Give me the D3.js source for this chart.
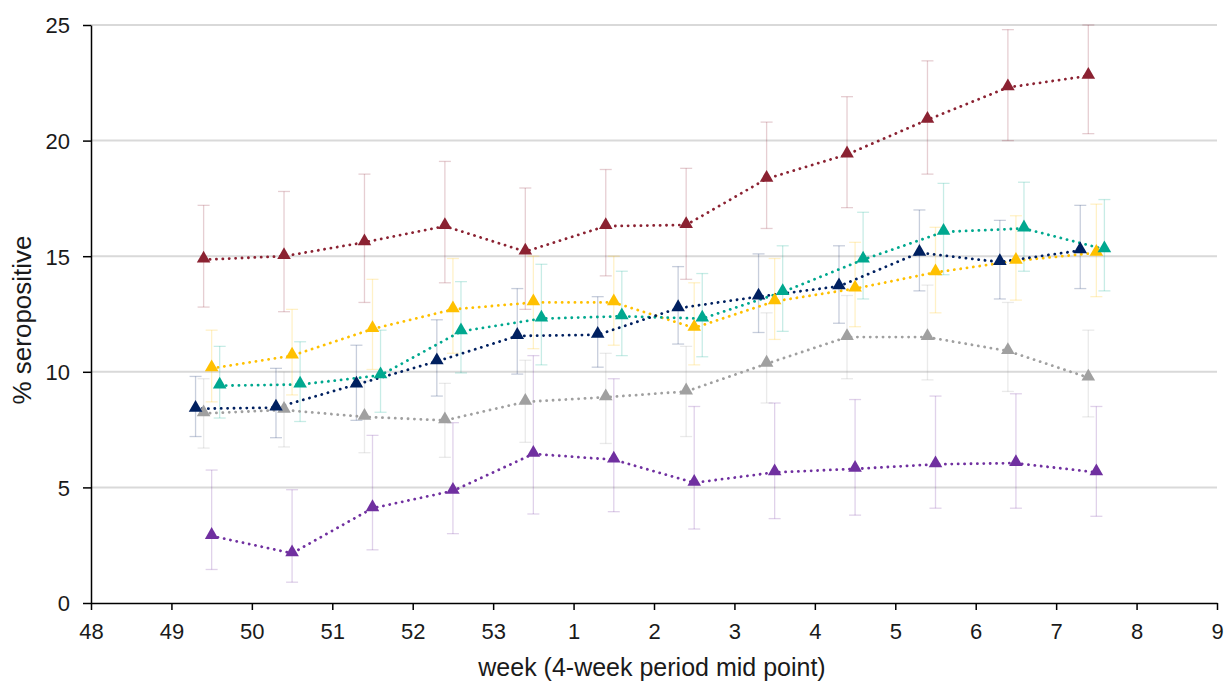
<!DOCTYPE html>
<html>
<head>
<meta charset="utf-8">
<script src="https://cdn.jsdelivr.net/npm/d3@7"></script>
<style>
  body { margin: 0; background: #fff; }
  svg { display: block; font-family: "Liberation Sans", Arial, sans-serif; }
</style>
</head>
<body>
<script>
// x axis categories (week numbers) and the weeks that have data
var weekLabels = ["48", "49", "50", "51", "52", "53", "1", "2", "3", "4", "5", "6", "7", "8", "9"];
var dataWeeks = ["49", "50", "51", "52", "53", "1", "2", "3", "4", "5", "6", "7"];
var yTicks = [0, 5, 10, 15, 20, 25];

// series values (% seropositive) with lower / upper confidence limits
var maroonVals = [14.85, 15.0, 15.6, 16.3, 15.2, 16.3, 16.35, 18.35, 19.4, 20.9, 22.3, 22.8];
var maroonLo   = [12.8, 12.6, 13.0, 13.85, 12.7, 14.15, 14.0, 16.2, 17.1, 18.55, 20.0, 20.3];
var maroonHi   = [17.2, 17.8, 18.55, 19.1, 17.95, 18.75, 18.8, 20.8, 21.9, 23.45, 24.8, 25.0];

var navyVals = [8.4, 8.45, 9.45, 10.45, 11.55, 11.6, 12.75, 13.25, 13.7, 15.15, 14.75, 15.25];
var navyLo   = [7.2, 7.15, 7.9, 8.95, 9.9, 10.2, 11.2, 11.7, 12.1, 13.5, 13.15, 13.6];
var navyHi   = [9.8, 10.15, 11.15, 12.25, 13.6, 13.25, 14.55, 15.1, 15.45, 17.0, 16.55, 17.2];

var greyVals = [8.2, 8.35, 8.05, 7.9, 8.7, 8.9, 9.15, 10.35, 11.5, 11.5, 10.9, 9.75];
var greyLo   = [6.7, 6.75, 6.5, 6.3, 6.95, 6.9, 7.2, 8.65, 9.7, 9.65, 9.15, 8.05];
var greyHi   = [9.7, 10.0, 9.6, 9.5, 10.5, 10.8, 11.1, 12.55, 13.3, 13.75, 13.0, 11.8];

var yellowVals = [10.15, 10.7, 11.85, 12.7, 13.0, 13.0, 11.9, 13.05, 13.6, 14.3, 14.8, 15.15];
var yellowLo   = [8.7, 9.0, 10.1, 10.8, 11.0, 11.15, 10.3, 11.4, 11.95, 12.55, 13.1, 13.25];
var yellowHi   = [11.8, 12.7, 14.0, 14.9, 15.0, 15.0, 13.85, 14.9, 15.6, 16.25, 16.75, 17.25];

var tealVals = [9.4, 9.45, 9.85, 11.75, 12.3, 12.4, 12.3, 13.45, 14.85, 16.05, 16.2, 15.3];
var tealLo   = [8.0, 7.85, 8.25, 9.95, 10.3, 10.7, 10.65, 11.75, 13.15, 14.2, 14.35, 13.5];
var tealHi   = [11.1, 11.3, 11.8, 13.9, 14.65, 14.35, 14.25, 15.45, 16.9, 18.15, 18.2, 17.45];

var purpleVals = [2.9, 2.15, 4.1, 4.85, 6.45, 6.2, 5.2, 5.65, 5.8, 6.0, 6.05, 5.65];
var purpleLo   = [1.45, 0.9, 2.3, 3.0, 3.85, 3.95, 3.2, 3.65, 3.8, 4.1, 4.1, 3.75];
var purpleHi   = [5.75, 4.9, 7.25, 7.8, 10.7, 9.7, 8.5, 8.65, 8.8, 8.95, 9.05, 8.5];

var series = [
    { color: "#7030a0", offset: 0.5, vals: purpleVals, lo: purpleLo, hi: purpleHi },
    { color: "#a0a0a0", offset: 0.4, vals: greyVals, lo: greyLo, hi: greyHi },
    { color: "#8b2232", offset: 0.4, vals: maroonVals, lo: maroonLo, hi: maroonHi },
    { color: "#ffc000", offset: 0.5, vals: yellowVals, lo: yellowLo, hi: yellowHi },
    { color: "#00a88f", offset: 0.6, vals: tealVals, lo: tealLo, hi: tealHi },
    { color: "#002060", offset: 0.3, vals: navyVals, lo: navyLo, hi: navyHi }
];

var width = 1224, height = 682;
var margin = { left: 91, right: 7, top: 25, bottom: 79 };

var svg = d3.select("body").append("svg")
    .attr("width", width)
    .attr("height", height);

var x = d3.scaleLinear()
    .domain([0, weekLabels.length - 1])
    .range([margin.left, width - margin.right]);

var y = d3.scaleLinear()
    .domain([0, 25])
    .range([height - margin.bottom, margin.top]);

// gridlines
svg.append("g")
    .selectAll("line")
    .data(yTicks.filter((d) => d > 0))
    .enter()
    .append("line")
    .attr("x1", x(0))
    .attr("x2", x(weekLabels.length - 1))
    .attr("y1", (d) => y(d))
    .attr("y2", (d) => y(d))
    .style("stroke", "#d9d9d9")
    .style("stroke-width", "2px");

// axes
var xAxis = svg.append("g")
    .attr("transform", "translate(0," + y(0) + ")")
    .call(d3.axisBottom(x)
        .tickValues(d3.range(weekLabels.length))
        .tickFormat((i) => weekLabels[i])
        .tickSize(7)
        .tickSizeOuter(0)
        .tickPadding(13));

var yAxis = svg.append("g")
    .attr("transform", "translate(" + x(0) + ",0)")
    .call(d3.axisLeft(y)
        .tickValues(yTicks)
        .tickSize(8)
        .tickSizeOuter(0)
        .tickPadding(13));

[xAxis, yAxis].forEach(function (ax) {
    ax.select(".domain").style("stroke", "#000").style("stroke-width", "1.5px");
    ax.selectAll(".tick line").style("stroke", "#000").style("stroke-width", "1.5px");
    ax.selectAll(".tick text")
        .style("font-size", "22px")
        .style("fill", "#1a1a1a")
        .style("font-family", "'Liberation Sans', Arial, sans-serif");
});
yAxis.selectAll(".tick text").attr("dy", "0.36em");

// axis titles
svg.append("text")
    .attr("x", 652)
    .attr("y", 676)
    .attr("text-anchor", "middle")
    .style("font-size", "25px")
    .style("fill", "#1a1a1a")
    .text("week (4-week period mid point)");

svg.append("text")
    .attr("transform", "translate(31,320) rotate(-90)")
    .attr("text-anchor", "middle")
    .style("font-size", "26px")
    .style("fill", "#1a1a1a")
    .text("% seropositive");

function px(s, i) {
    return x(weekLabels.indexOf(dataWeeks[i]) + s.offset);
}

// error bars
var bars = svg.append("g");
series.forEach(function (s) {
    var g = bars.append("g")
        .style("stroke", s.color)
        .style("stroke-opacity", 0.22)
        .style("stroke-width", "1.3px");
    var idx = d3.range(s.vals.length);
    g.selectAll("line.v").data(idx).enter().append("line")
        .attr("x1", (i) => px(s, i)).attr("x2", (i) => px(s, i))
        .attr("y1", (i) => y(s.lo[i])).attr("y2", (i) => y(s.hi[i]));
    g.selectAll("line.lo").data(idx).enter().append("line")
        .attr("x1", (i) => px(s, i) - 6).attr("x2", (i) => px(s, i) + 6)
        .attr("y1", (i) => y(s.lo[i])).attr("y2", (i) => y(s.lo[i]));
    g.selectAll("line.hi").data(idx).enter().append("line")
        .attr("x1", (i) => px(s, i) - 6).attr("x2", (i) => px(s, i) + 6)
        .attr("y1", (i) => y(s.hi[i])).attr("y2", (i) => y(s.hi[i]));
});

// dotted lines and triangle markers
var line = d3.line();
var tri = d3.symbol().type(d3.symbolTriangle).size(80);

series.forEach(function (s) {
    var pts = s.vals.map((v, i) => [px(s, i), y(v)]);
    svg.append("path")
        .attr("d", line(pts))
        .style("fill", "none")
        .style("stroke", s.color)
        .style("stroke-width", "2.8px")
        .style("stroke-linecap", "round")
        .style("stroke-dasharray", "0.1 6.3");
});

series.forEach(function (s) {
    svg.append("g")
        .selectAll("path")
        .data(s.vals)
        .enter()
        .append("path")
        .attr("d", tri)
        .attr("transform", (v, i) => "translate(" + px(s, i) + "," + (y(v) - 1) + ")")
        .style("fill", s.color);
});
</script>
</body>
</html>
